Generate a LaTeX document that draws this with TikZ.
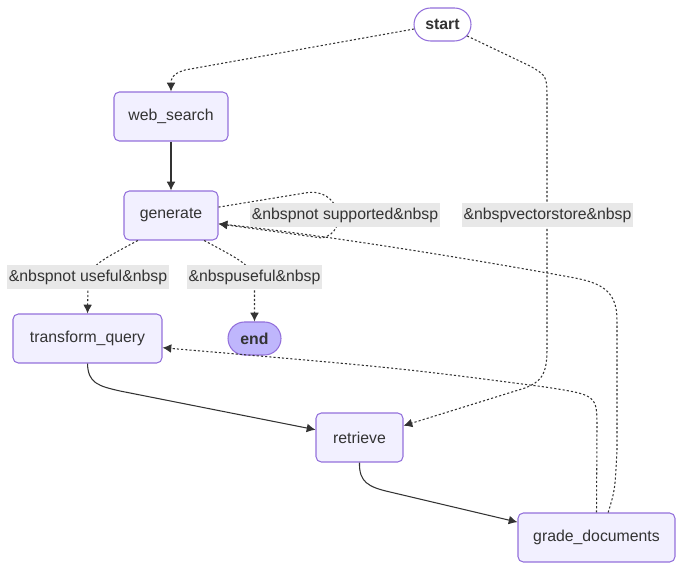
\documentclass[tikz,border=0pt]{standalone}
\usepackage{fontspec}
\setmainfont{Liberation Sans}
\usetikzlibrary{arrows.meta,shapes.misc}

\definecolor{nodefill}{HTML}{F2F0FF}
\definecolor{nodeline}{HTML}{9370DB}
\definecolor{endfill}{HTML}{BFB6FC}
\definecolor{edgecol}{HTML}{333333}
\definecolor{lblfill}{HTML}{E8E8E8}

\begin{document}
\begin{tikzpicture}[x=0.02cm,y=-0.02cm]
    \tikzstyle{every node}=[font=\fontsize{9}{10.5}\selectfont, text=edgecol]
    \tikzstyle{box}=[draw=nodeline, fill=nodefill, line width=0.6pt, rounded corners=3pt, minimum height=0.98cm, inner sep=0pt]
    \tikzstyle{pill}=[rounded rectangle, draw=nodeline, line width=0.6pt, minimum height=0.66cm, inner sep=0pt, font=\fontsize{9}{10.5}\selectfont\bfseries]
    \tikzstyle{lbl}=[fill=lblfill, minimum height=0.48cm, inner xsep=1pt, inner ysep=0pt]
    \tikzstyle{solidedge}=[draw=edgecol, line width=0.6pt, -{Latex[length=5pt,width=5pt]}]
    \tikzstyle{dotedge}=[solidedge, dash pattern=on 1.2pt off 1.2pt]

    \useasboundingbox (0,0) rectangle (683,570);

      % nodes
      \node[pill, fill=white, minimum width=1.14cm] (start) at (442.5,24.5) {start};
      \node[box, minimum width=2.28cm] (ws) at (171,116.5) {web\_search};
      \node[box, minimum width=1.88cm] (gen) at (171,215.5) {generate};
      \node[box, minimum width=2.98cm] (tq) at (87.5,338.5) {transform\_query};
      \node[pill, fill=endfill, minimum width=1.06cm] (end) at (254.5,338.5) {end};
      \node[box, minimum width=1.74cm] (ret) at (359.5,437.5) {retrieve};
      \node[box, minimum width=3.14cm] (gd) at (596.5,537.5) {grade\_documents};

      % edges out of start
      \draw[dotedge] (start.189) -- (185,70) .. controls (171,74) and (171,80) .. (ws.north);
      \draw[dotedge] (start.-25) -- (530,66) .. controls (547,76) .. (547,100)
         -- (547,350) .. controls (547,376) and (540,382) .. (525,388) -- (ret.15);

      % main line
      \draw[solidedge] (ws) -- (gen);
      \draw[solidedge] (tq.south) .. controls (88,383) and (98,386) .. (120,391) -- (ret.170);
      \draw[solidedge] (ret.south) .. controls (359,482) and (368,487) .. (390,492) -- (gd.169);

      % edges out of generate
      \draw[dotedge] (gen.10) -- (305,193) .. controls (340,186) and (350,232) .. (322,238) -- (gen.-10);
      \draw[dotedge] (gen.217) .. controls (92,265) .. (88,285) -- (tq.north);
      \draw[dotedge] (gen.-37) .. controls (250,265) .. (254.5,285) -- (end.north);

      % edges out of grade_documents
      \draw[dotedge] (gd.north) -- (597,428) .. controls (597,395) .. (545,387)
         .. controls (400,368) .. (tq.-7);
      \draw[dotedge] (gd.65) .. controls (615,490) .. (617,450) -- (617,320)
         .. controls (617,290) and (600,283) .. (575,278)
         .. controls (450,255) and (300,232) .. (gen.-10);

      % edge labels
      \node[lbl] (lnotsup) at (345,215) {\&nbspnot supported\&nbsp};
      \node[lbl] (lvec) at (547.5,215) {\&nbspvectorstore\&nbsp};
      \node[lbl] (lnotuse) at (88,277) {\&nbspnot useful\&nbsp};
      \node[lbl] (luse) at (254.5,277) {\&nbspuseful\&nbsp};

    \end{tikzpicture}
\end{document}
